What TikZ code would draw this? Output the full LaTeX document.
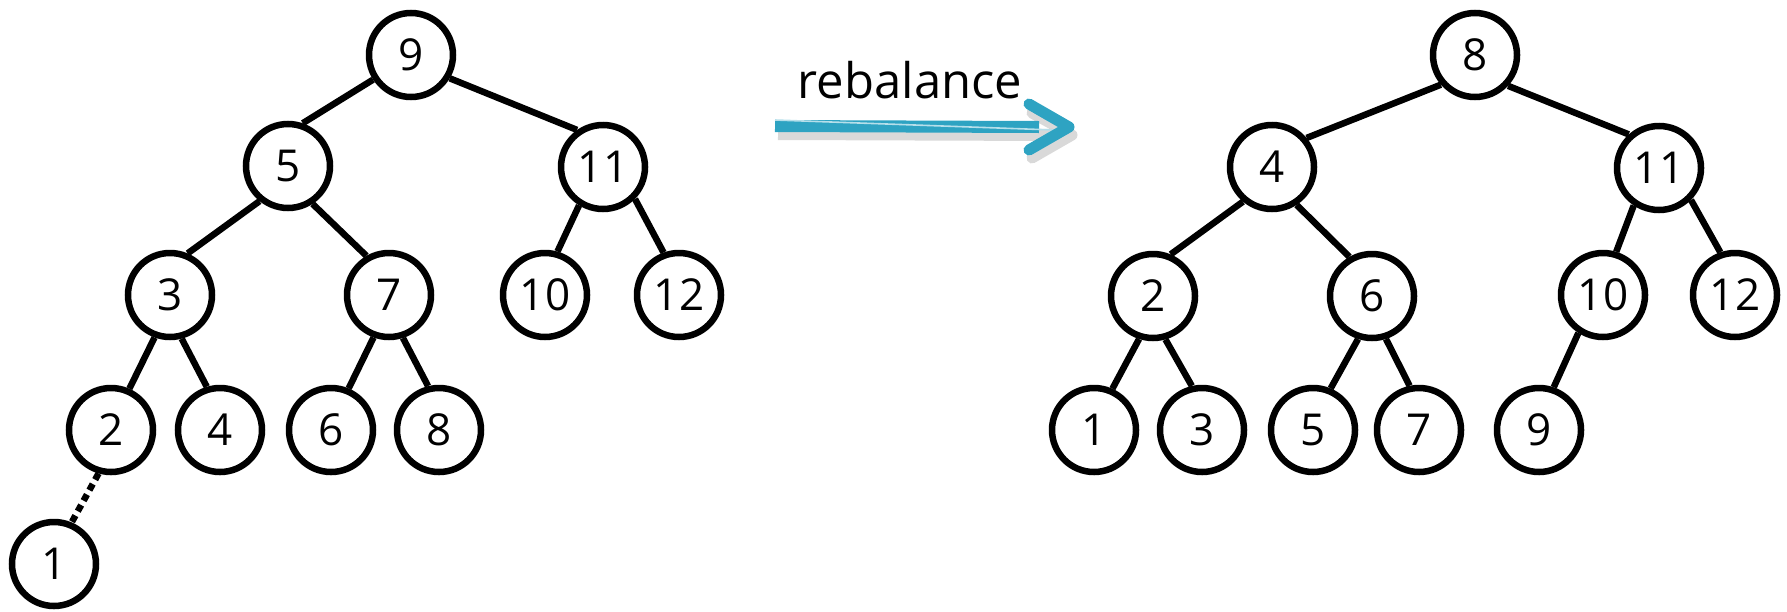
\documentclass[tikz,border=0pt]{standalone}
\usepackage{fontspec}
\setmainfont{Open Sans}
\definecolor{arrowteal}{HTML}{2EA3C2}

\begin{document}
\begin{tikzpicture}[x=0.5pt,y=-0.5pt,
key/.style={circle,draw,line width=3.25pt,minimum size=42pt,inner sep=0pt,
  font=\fontsize{22}{26}\selectfont},
edge/.style={line width=3.25pt},
missing/.style={edge,dash pattern=on 3.5pt off 2.5pt}]
\useasboundingbox (0,0) rectangle (1787,611);
% tree before
\node[key] (l9) at (411,55) {9};
\node[key] (l5) at (288,166) {5};
\node[key] (l11) at (603,167) {11};
\node[key] (l3) at (170,295) {3};
\node[key] (l7) at (389,295) {7};
\node[key] (l10) at (545,295) {10};
\node[key] (l12) at (679,295) {12};
\node[key] (l2) at (111,430) {2};
\node[key] (l4) at (220,430) {4};
\node[key] (l6) at (331,430) {6};
\node[key] (l8) at (439,430) {8};
\node[key] (l1) at (54,564) {1};
\foreach \a/\p/\b/\c in {l9/213/l5/71,l9/329/l11/125,l5/231/l3/67,l5/303/l7/120,
  l11/238/l10/74,l11/315/l12/110,l3/250/l2/66,l3/285/l4/107,l7/250/l6/67,l7/288/l8/104}
  \draw[edge] (\a.\p) -- (\b.\c);
\draw[missing] (l2.254) -- (l1.67);
% tree after
\node[key] (r8) at (1475,55) {8};
\node[key] (r4) at (1272,167) {4};
\node[key] (r11) at (1659,168) {11};
\node[key] (r2) at (1153,296) {2};
\node[key] (r6) at (1372,296) {6};
\node[key] (r10) at (1603,295) {10};
\node[key] (r12) at (1735,295) {12};
\node[key] (r1) at (1094,430) {1};
\node[key] (r3) at (1202,430) {3};
\node[key] (r5) at (1313,430) {5};
\node[key] (r7) at (1419,430) {7};
\node[key] (r9) at (1539,430) {9};
\foreach \a/\p/\b/\c in {r8/221/r4/40,r8/317/r11/132,r4/230/r2/67,r4/303/r6/120,
  r11/236/r10/73,r11/315/r12/109,r2/252/r1/66,r2/286/r3/103,r6/252/r5/67,r6/288/r7/102,
  r10/237/r9/71}
  \draw[edge] (\a.\p) -- (\b.\c);
% arrow
\coordinate (arrowstart) at (775,126);
\coordinate (arrowend) at (1069,127);
\node[font=\fontsize{24.5}{28}\selectfont,anchor=base] (lbl) at (910,98) {rebalance};
\draw[black,opacity=0.15,line width=6pt] ([shift={(3,8)}]arrowstart) -- ([shift={(-15,8)}]arrowend);
\draw[black,opacity=0.15,line width=5.5pt,line cap=round,line join=round]
  ([shift={(-37,-14)}]arrowend) -- ([shift={(3,8)}]arrowend) -- ([shift={(-37,31)}]arrowend);
\draw[arrowteal,line width=6pt] (arrowstart) -- ([xshift=-15]arrowend);
\draw[arrowteal!35!white,line width=0.8pt] ([yshift=3]arrowstart) -- ([shift={(-15,3)}]arrowend);
\draw[arrowteal,line width=5.5pt,line cap=round,line join=round]
  ([shift={(-40,-23)}]arrowend) -- (arrowend) -- ([shift={(-40,23)}]arrowend);
\end{tikzpicture}
\end{document}
